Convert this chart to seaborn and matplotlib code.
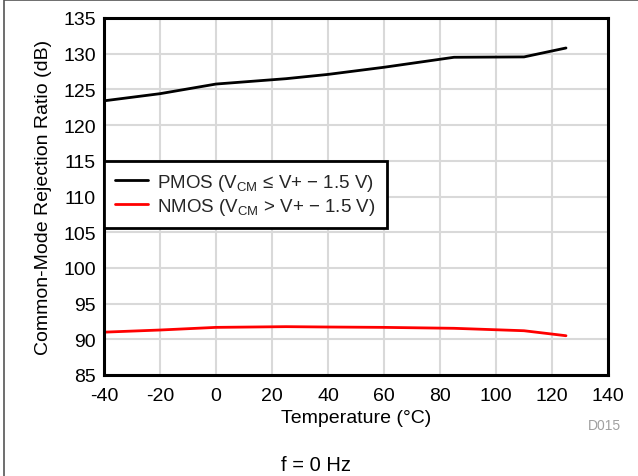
import matplotlib
matplotlib.use("Agg")
import matplotlib.pyplot as plt
import matplotlib.patches as mpatches
import seaborn as sns
import pandas as pd

# --- DATA ---
temp_c = [-40, -20, 0, 25, 40, 60, 85, 110, 125]
cmrr_pmos = [123.4, 124.4, 125.75, 126.5, 127.1, 128.1, 129.5, 129.55, 130.8]
cmrr_nmos = [91.0, 91.3, 91.67, 91.77, 91.72, 91.67, 91.54, 91.2, 90.5]
label_pmos = "PMOS (V$_{\\mathregular{CM}}$ \u2264 V+ \u2212 1.5 V)"
label_nmos = "NMOS (V$_{\\mathregular{CM}}$ > V+ \u2212 1.5 V)"
x_ticks = [-40, -20, 0, 20, 40, 60, 80, 100, 120, 140]
y_ticks = [85, 90, 95, 100, 105, 110, 115, 120, 125, 130, 135]

df = pd.DataFrame({
    "Temperature": temp_c * 2,
    "CMRR": cmrr_pmos + cmrr_nmos,
    "Mode": [label_pmos] * len(temp_c) + [label_nmos] * len(temp_c),
})

sns.set_theme(style="whitegrid")
plt.rcParams['font.family'] = ['Liberation Sans', 'DejaVu Sans']
plt.rcParams['mathtext.fontset'] = 'custom'
plt.rcParams['mathtext.rm'] = 'Liberation Sans'
plt.rcParams['axes.unicode_minus'] = False

fig = plt.figure(figsize=(6.38, 4.77), dpi=100)
ax = fig.add_axes([104 / 638, 1 - 376 / 477, 504 / 638, 357 / 477])

sns.lineplot(data=df, x="Temperature", y="CMRR", hue="Mode",
             palette=["black", "#ff0000"], linewidth=2.0, ax=ax)

ax.set_xlim(-40, 140)
ax.set_ylim(85, 135)
ax.set_xticks(x_ticks)
ax.set_yticks(y_ticks)
ax.tick_params(axis='both', length=0, labelsize=14, colors='black', pad=6)
ax.tick_params(axis='x', pad=9)
ax.grid(True, color='#d9d9d9', linewidth=1.5)
for sp in ax.spines.values():
    sp.set_color('black')
    sp.set_linewidth(2.2)

ax.set_xlabel("Temperature (\u00b0C)", fontsize=14, color='black', labelpad=3)
ax.set_ylabel("Common-Mode Rejection Ratio (dB)", fontsize=14, color='black', labelpad=8)

leg = ax.legend(loc='upper left', bbox_to_anchor=(0.0, 0.6), frameon=True,
                fancybox=False, fontsize=13.5, handlelength=1.75,
                handletextpad=0.5, borderpad=0.6, labelspacing=0.15,
                borderaxespad=0)
leg.get_frame().set_edgecolor('black')
leg.get_frame().set_linewidth(2.0)
leg.get_frame().set_alpha(1)

fig.text(604 / 638, 1 - 426 / 477, "D015", fontsize=10, color='#a0a0a0',
         ha='center', va='center')
fig.text(316 / 638, 1 - 466 / 477, "f = 0 Hz", fontsize=14.5, color='black',
         ha='center', va='center')

# outer frame, cut off on the right and bottom like the reference
fig.patches.append(mpatches.Rectangle((4 / 638, -0.2), 1.2, 1.2 - 0.5 / 477,
                                      transform=fig.transFigure, fill=False,
                                      edgecolor='#555555', linewidth=1.2))

fig.savefig("out.png", dpi=100)
